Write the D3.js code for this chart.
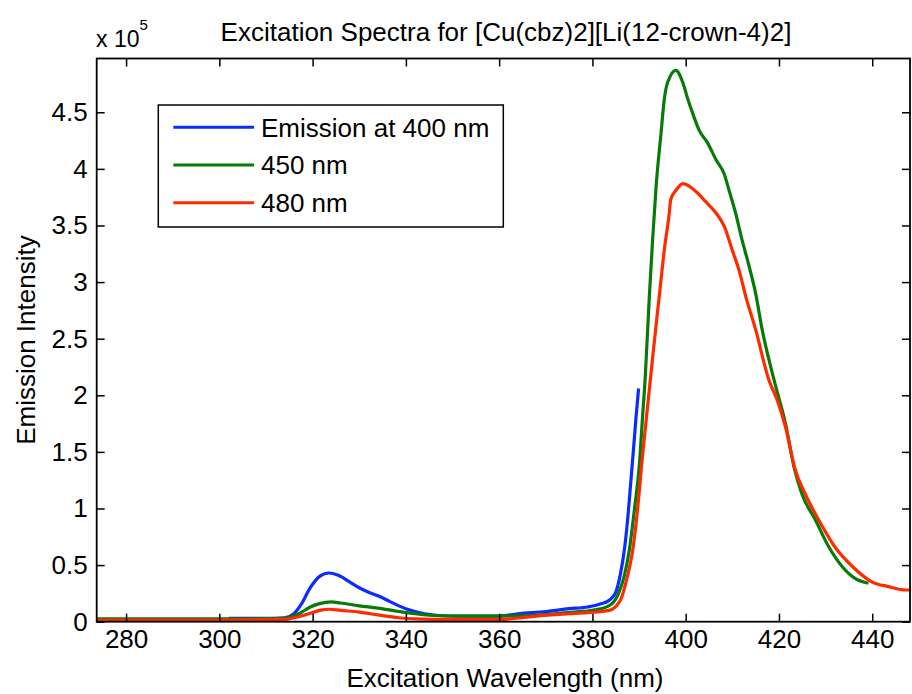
<!DOCTYPE html>
<html>
<head>
<meta charset="utf-8">
<script src="https://cdn.jsdelivr.net/npm/d3@7"></script>
<style>
  html, body { margin: 0; padding: 0; background: #fff; }
  svg { display: block; }
  text { font-family: "Liberation Sans", Arial, sans-serif; fill: #000; }
</style>
</head>
<body>
<div id="chart"></div>
<script>
// ---- data (intensity in units of 1e5) ----
const blueWl = [302, 310, 314, 316, 317.5, 319.5, 321.5, 323.5, 325.5, 328, 330, 332, 334.5, 336.5, 338.5, 341, 344, 347, 352, 360, 364, 370, 375, 379, 382, 383.6, 385, 386, 386.8, 387.5, 388.2, 388.8, 389.3, 389.9];
const blueVals = [0.03, 0.03, 0.035, 0.07, 0.15, 0.30, 0.40, 0.43, 0.41, 0.35, 0.30, 0.26, 0.22, 0.18, 0.14, 0.10, 0.07, 0.055, 0.05, 0.05, 0.07, 0.09, 0.115, 0.13, 0.16, 0.19, 0.26, 0.42, 0.62, 0.88, 1.22, 1.52, 1.78, 2.06];

const greenWl = [273.7, 290, 305, 314, 316, 317.5, 319.5, 321.5, 324, 326, 330, 334, 338.5, 342, 346, 352, 360, 366, 372, 376, 380, 383.5, 385.5, 386.8, 387.9, 389, 390.1, 390.7, 391.3, 392.2, 392.9, 393.7, 394.7, 395.4, 396.1, 397.9, 399.4, 400.5, 401.5, 402.9, 404.7, 406.5, 408.3, 409.3, 410.7, 412.1, 413.6, 415, 416.4, 419.3, 421.4, 423.2, 424.9, 427.8, 430.7, 433.5, 436.4, 439.2];
const greenVals = [0.025, 0.025, 0.025, 0.03, 0.05, 0.08, 0.13, 0.16, 0.175, 0.165, 0.14, 0.12, 0.09, 0.07, 0.055, 0.05, 0.05, 0.055, 0.07, 0.085, 0.10, 0.14, 0.24, 0.40, 0.63, 0.99, 1.40, 1.78, 2.14, 2.87, 3.37, 3.87, 4.31, 4.61, 4.76, 4.87, 4.76, 4.61, 4.49, 4.34, 4.23, 4.08, 3.95, 3.81, 3.61, 3.37, 3.14, 2.90, 2.58, 2.08, 1.75, 1.37, 1.13, 0.90, 0.66, 0.49, 0.38, 0.34];

const redWl = [273.7, 300, 314, 316, 317.5, 319.5, 321.5, 323.6, 326, 330, 334, 338.5, 342, 350, 360, 366, 371, 375, 379, 383.6, 386, 387.5, 388.6, 389.7, 390.7, 391.7, 392.7, 393.6, 394.4, 395.4, 396.4, 396.8, 397.9, 399.4, 402.2, 404.3, 406.5, 408.3, 410, 411.4, 412.9, 415, 417.8, 419.6, 421.4, 423.5, 425.6, 428.5, 432, 435.7, 440, 443.5, 447.1, 448.1];
const redVals = [0.015, 0.015, 0.02, 0.035, 0.05, 0.075, 0.10, 0.11, 0.10, 0.085, 0.06, 0.035, 0.025, 0.02, 0.02, 0.04, 0.06, 0.07, 0.08, 0.10, 0.19, 0.40, 0.62, 1.0, 1.45, 1.85, 2.25, 2.6, 2.9, 3.28, 3.58, 3.73, 3.81, 3.87, 3.80, 3.71, 3.61, 3.49, 3.28, 3.11, 2.87, 2.58, 2.14, 1.96, 1.72, 1.34, 1.13, 0.90, 0.66, 0.49, 0.35, 0.31, 0.28, 0.28];

const seriesNames = ["Emission at 400 nm", "450 nm", "480 nm"];
const seriesColors = ["#0a2cff", "#087a08", "#ff2a00"];
const xTicks = [280, 300, 320, 340, 360, 380, 400, 420, 440];
const yTicks = [0, 0.5, 1, 1.5, 2, 2.5, 3, 3.5, 4, 4.5];
const titleText = "Excitation Spectra for [Cu(cbz)2][Li(12-crown-4)2]";
const xLabel = "Excitation Wavelength (nm)";
const yLabel = "Emission Intensity";
const xDomain = [273.7, 448.1];
const yDomain = [0, 4.975];

// ---- layout ----
const W = 912, H = 694;
const L = 96.7, R = 910, T = 58.5, B = 621.7;
const FS = 26;

const svg = d3.select("#chart").append("svg").attr("width", W).attr("height", H);
svg.append("rect").attr("width", W).attr("height", H).attr("fill", "#fff");

const x = d3.scaleLinear().domain(xDomain).range([L, R]);
const y = d3.scaleLinear().domain(yDomain).range([B, T]);

const series = [
  { name: seriesNames[0], color: seriesColors[0], pts: blueWl.map((w, i) => [w, blueVals[i]]) },
  { name: seriesNames[1], color: seriesColors[1], pts: greenWl.map((w, i) => [w, greenVals[i]]) },
  { name: seriesNames[2], color: seriesColors[2], pts: redWl.map((w, i) => [w, redVals[i]]) }
];

svg.append("clipPath").attr("id", "clip").append("rect")
  .attr("x", L).attr("y", T).attr("width", R - L).attr("height", B - T);

const line = d3.line().x(d => x(d[0])).y(d => y(d[1])).curve(d3.curveMonotoneX);
const g = svg.append("g").attr("clip-path", "url(#clip)");
series.forEach(s => {
  g.append("path").datum(s.pts).attr("d", line)
    .attr("fill", "none").attr("stroke", s.color)
    .attr("stroke-width", 3.2).attr("stroke-linejoin", "round");
});

// ---- axes ----
function styleAxis(sel) {
  sel.select(".domain").remove();
  sel.selectAll(".tick line").attr("stroke", "#000").attr("stroke-width", 1.5);
  sel.selectAll(".tick text").attr("font-size", FS).attr("font-family", "Liberation Sans, Arial, sans-serif").attr("fill", "#000");
}
svg.append("g").attr("transform", `translate(0,${B})`)
  .call(d3.axisBottom(x).tickValues(xTicks).tickSize(-8).tickPadding(8).tickFormat(d3.format("d")))
  .call(styleAxis);
svg.append("g").attr("transform", `translate(0,${T})`)
  .call(d3.axisTop(x).tickValues(xTicks).tickSize(-8).tickFormat(""))
  .call(styleAxis);
svg.append("g").attr("transform", `translate(${L},0)`)
  .call(d3.axisLeft(y).tickValues(yTicks).tickSize(-8).tickPadding(9).tickFormat(d => d3.format("")(d)))
  .call(styleAxis);
svg.append("g").attr("transform", `translate(${R},0)`)
  .call(d3.axisRight(y).tickValues(yTicks).tickSize(-8).tickFormat(""))
  .call(styleAxis);

svg.append("rect").attr("x", L).attr("y", T).attr("width", R - L).attr("height", B - T)
  .attr("fill", "none").attr("stroke", "#000").attr("stroke-width", 1.8);

// ---- texts ----
svg.append("text").attr("x", 506).attr("y", 41).attr("text-anchor", "middle")
  .attr("font-size", FS).text(titleText);
svg.append("text").attr("x", 505).attr("y", 687).attr("text-anchor", "middle")
  .attr("font-size", FS).text(xLabel);
svg.append("text").attr("transform", `translate(35,${(T + B) / 2}) rotate(-90)`).attr("text-anchor", "middle")
  .attr("font-size", FS).text(yLabel);

const mult = svg.append("text").attr("x", 96).attr("y", 47).attr("font-size", 23);
mult.append("tspan").text("x 10");
mult.append("tspan").attr("font-size", 15).attr("dy", -17).text("5");

// ---- legend ----
const lg = svg.append("g");
lg.append("rect").attr("x", 158.3).attr("y", 105).attr("width", 345).attr("height", 122)
  .attr("fill", "#fff").attr("stroke", "#000").attr("stroke-width", 1.5);
series.forEach((s, i) => {
  const yy = 127.3 + i * 37.7;
  lg.append("line").attr("x1", 173.3).attr("x2", 254).attr("y1", yy).attr("y2", yy)
    .attr("stroke", s.color).attr("stroke-width", 3);
  lg.append("text").attr("x", 261).attr("y", yy).attr("dy", "0.36em")
    .attr("font-size", FS).text(s.name);
});
</script>
</body>
</html>
